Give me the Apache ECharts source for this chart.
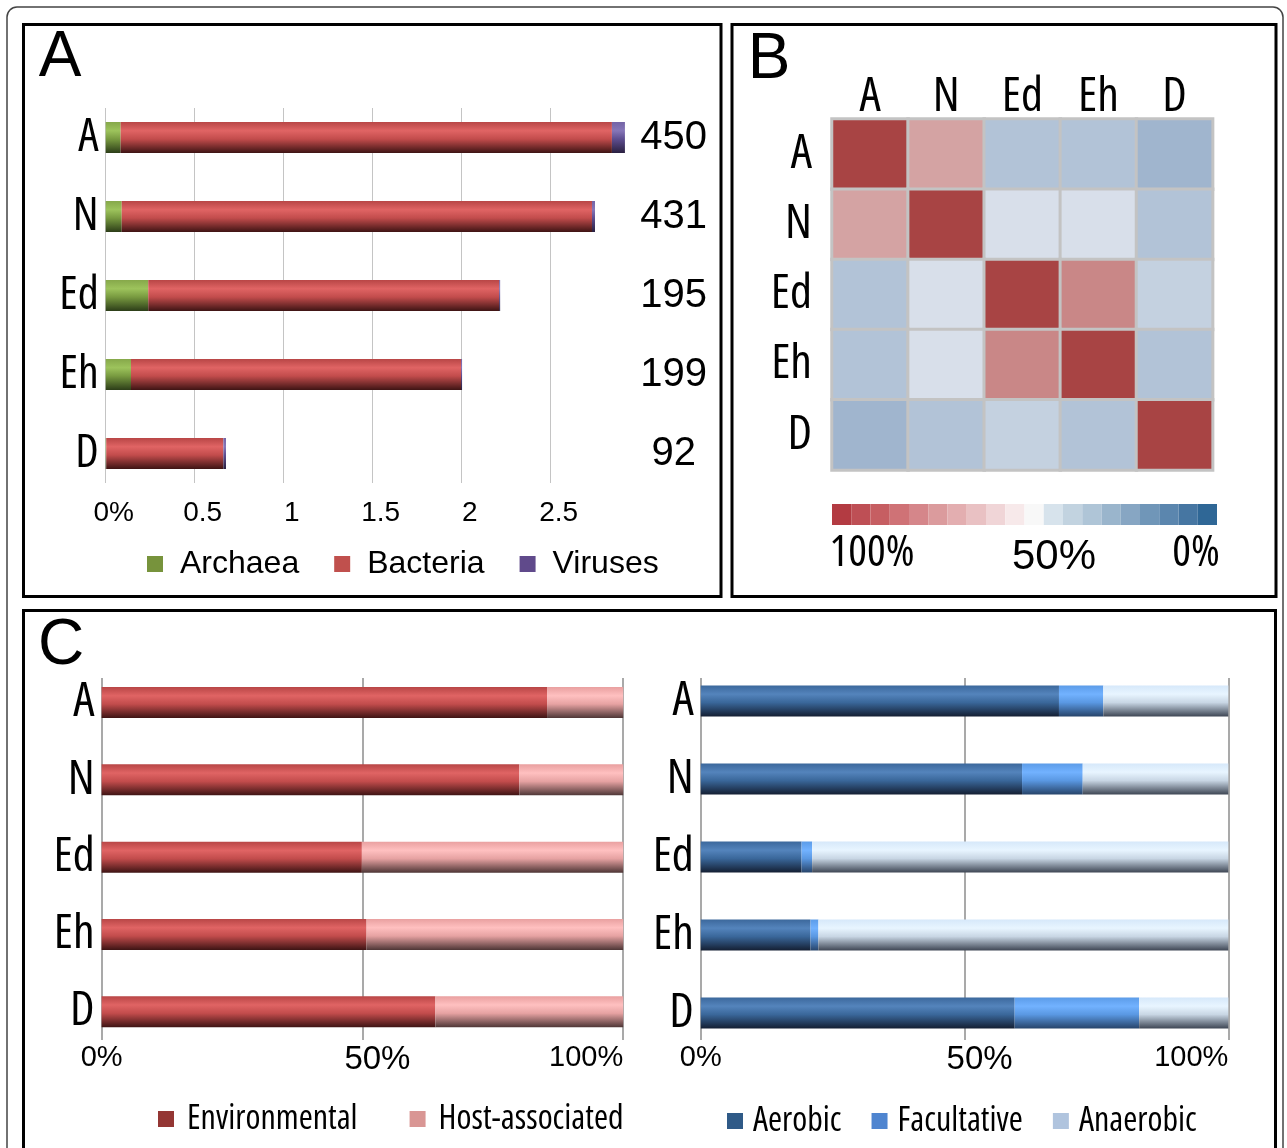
<!DOCTYPE html>
<html>
<head>
<meta charset="utf-8">
<script src="https://cdn.jsdelivr.net/npm/echarts@6/dist/echarts.min.js"></script>
<style>html,body{margin:0;padding:0;background:#fff}#c{width:1287px;height:1148px}</style>
</head>
<body>
<div id="c"></div>
<script>
// ---------- DATA ----------
const categories = ['A', 'N', 'Ed', 'Eh', 'D'];
const counts = ['450', '431', '195', '199', '92'];
const archaea = [0.084, 0.09, 0.239, 0.142, 0.003];
const bacteria = [2.76, 2.642, 1.971, 1.854, 0.658];
const viruses = [0.073, 0.017, 0.006, 0.006, 0.015];
const axisATicks = ['0%', '0.5', '1', '1.5', '2', '2.5'];

const heatCols = ['A', 'N', 'Ed', 'Eh', 'D'];
const heatRows = ['A', 'N', 'Ed', 'Eh', 'D'];
const similarity = [
  [100, 65, 35, 35, 30],
  [65, 100, 45, 45, 35],
  [35, 45, 100, 72, 40],
  [35, 45, 72, 100, 35],
  [30, 35, 40, 35, 100]
];
const colorbarTicks = ['100%', '50%', '0%'];

const environmental = [85.4, 80.1, 49.9, 50.8, 64.0];
const hostAssociated = [14.6, 19.9, 50.1, 49.2, 36.0];
const aerobic = [67.9, 60.9, 19.1, 20.8, 59.5];
const facultative = [8.4, 11.5, 2.0, 1.5, 23.6];
const anaerobic = [23.7, 27.6, 78.9, 77.7, 16.9];
const percentTicks = ['0%', '50%', '100%'];

// ---------- FONTS ----------
const REG = "'Liberation Sans',Arial,sans-serif";
function measureRatio(font, txt) {
  const ctx = document.createElement('canvas').getContext('2d');
  ctx.font = '10px monospace';
  ctx.font = font;
  return ctx.measureText(txt).width / 100;
}
const narrowCandidates = [
  { fam: "'Liberation Sans Narrow'", st: 'normal' },
  { fam: "'Open Sans'", st: 'condensed' },
  { fam: "'Open Sans'", st: 'semi-condensed' },
  { fam: "'Noto Sans'", st: 'condensed' },
  { fam: "'Noto Sans'", st: 'semi-condensed' },
  { fam: "Roboto", st: 'condensed' },
  { fam: "'DejaVu Sans'", st: 'condensed' },
  { fam: "'Liberation Sans'", st: 'normal' }
];
const targetRatio = 174 / 33;
let best = narrowCandidates[narrowCandidates.length - 1], bestErr = 1e9;
narrowCandidates.forEach(c => {
  const f = (c.st === 'normal' ? '' : c.st + ' ') + '100px ' + c.fam + ", sans-serif";
  const r = measureRatio(f, 'Environmental');
  const err = Math.abs(r - targetRatio);
  if (err < bestErr) { bestErr = err; best = c; }
});
const NARROW = best.fam + ",'Liberation Sans',sans-serif";
const NW = best.st;
const nfont = (s) => (NW === 'normal' ? '' : NW + ' ') + s + 'px ' + NARROW;

// ---------- STYLE ----------
const heatPalette = ['#6F8FB5', '#809DC0', '#90AAC8', '#A0B5CE', '#C4D1E0', '#ECEDF4',
  '#DDB9BA', '#CB8D8C', '#BF7171', '#B35A5A', '#A84444'];
const colorbarPalette = ['#B33B42', '#BE4F55', '#C65E62', '#CF7276', '#D5868A', '#DB9B9D',
  '#E3AEB0', '#E9C1C3', '#F0D5D7', '#F7E9EA', '#F8F8F8', '#D7E3EC', '#C2D3E0', '#AFC5D7',
  '#9AB5CC', '#87A6C3', '#7096B8', '#5B86AE', '#4676A2', '#2F6796'];

function glossy(top, light, mid, dark) {
  return new echarts.graphic.LinearGradient(0, 0, 0, 1, [
    { offset: 0, color: top }, { offset: 0.28, color: light },
    { offset: 0.55, color: mid }, { offset: 1, color: dark }
  ]);
}
const gGreen = glossy('#86A84A', '#9DC35C', '#789A40', '#2C3D18');
const gRed = glossy('#B84646', '#E06464', '#C24C4C', '#3E1414');
const gPurple = glossy('#7464A6', '#8676B8', '#5E4E90', '#2A2040');
const gPink = glossy('#E9A0A0', '#FFC0C0', '#E6A2A2', '#4E3636');
const gAer = glossy('#3C689C', '#5484BC', '#3A679A', '#141F33');
const gFac = glossy('#5C9CE8', '#72B2FF', '#5A98E2', '#27446A');
const gAna = glossy('#D6E8FA', '#E8F5FF', '#C8D6E4', '#3E4654');

const noAxis = { axisLine: { show: false }, axisTick: { show: false }, splitLine: { show: false } };
function catAxis(grid, data, size, margin) {
  return Object.assign({ gridIndex: grid, type: 'category', data: data, inverse: true,
    axisLabel: { margin: margin, fontFamily: NARROW, fontWeight: NW, fontSize: size, color: '#000' } }, noAxis);
}
function hiddenX(grid, max) { return { gridIndex: grid, type: 'value', min: 0, max: max, show: false }; }
function hiddenY(grid) { return { gridIndex: grid, type: 'value', min: 0, max: 1, show: false }; }

const pctLabel = {
  formatter: function (v) {
    const i = Math.round(v / 50);
    return v === 50 ? '{b|' + percentTicks[i] + '}' : '{a|' + percentTicks[i] + '}';
  },
  margin: 3,
  alignMaxLabel: 'right',
  rich: {
    a: { fontFamily: REG, fontSize: 29, color: '#000' },
    b: { fontFamily: REG, fontSize: 33, color: '#000', padding: [0, 0, 0, 30] }
  }
};
function pctAxis(grid) {
  return { gridIndex: grid, type: 'value', min: 0, max: 100, interval: 50,
    axisLine: { show: false }, axisTick: { show: false },
    splitLine: { show: true, lineStyle: { color: '#8C8C8C', width: 1.5 } },
    axisLabel: pctLabel };
}

const heatData = [];
similarity.forEach((row, r) => row.forEach((v, c) => heatData.push([c, r, v])));

const option = {
  backgroundColor: '#fff',
  animation: false,
  grid: [
    { left: 105.7, top: 98, width: 534, height: 395 },       // 0 A bars
    { left: 105.7, top: 108, width: 534, height: 375 },      // 1 A gridlines
    { left: 832, top: 119, width: 380.6, height: 351 },      // 2 heatmap
    { left: 101.6, top: 663.9, width: 521.6, height: 386.5 },// 3 C left bars
    { left: 101.6, top: 678, width: 521.6, height: 362 },    // 4 C left gridlines
    { left: 700.8, top: 662, width: 527.5, height: 390 },    // 5 C right bars
    { left: 700.8, top: 678, width: 527.5, height: 362 }     // 6 C right gridlines
  ],
  xAxis: [
    hiddenX(0, 3),
    {
      gridIndex: 1, type: 'value', min: 0, max: 3, interval: 0.5,
      axisLine: { show: false }, axisTick: { show: false },
      splitLine: { show: true, showMaxLine: false, lineStyle: { color: '#C4C4C4', width: 1 } },
      axisLabel: {
        showMaxLabel: false, margin: 16, fontFamily: REG, fontSize: 28, color: '#000',
        padding: [0, 0, 0, 16],
        formatter: function (v) { const t = axisATicks[Math.round(v / 0.5)]; return t === undefined ? '' : t; }
      }
    },
    Object.assign({ gridIndex: 2, type: 'category', data: heatCols, position: 'top',
      axisLabel: { margin: -2, fontFamily: NARROW, fontWeight: NW, fontSize: 48, color: '#000' } }, noAxis),
    hiddenX(3, 100),
    pctAxis(4),
    hiddenX(5, 100),
    pctAxis(6)
  ],
  yAxis: [
    catAxis(0, categories, 46, 7),
    Object.assign({ gridIndex: 0, type: 'category', data: counts, inverse: true, position: 'right',
      axisLabel: { margin: 34, align: 'center', fontFamily: REG, fontSize: 40, color: '#000', padding: [6, 0, 0, 0] } }, noAxis),
    hiddenY(1),
    catAxis(2, heatRows, 48, 20),
    catAxis(3, categories, 48, 7),
    hiddenY(4),
    catAxis(5, categories, 48, 7),
    hiddenY(6)
  ],
  legend: [
    {
      left: 142, top: 543, width: 600, itemWidth: 16, itemHeight: 16, itemGap: 35, icon: 'rect',
      selectedMode: false,
      textStyle: { fontFamily: REG, fontSize: 32, color: '#000', padding: [0, 0, 0, 12] },
      data: [
        { name: 'Archaea', itemStyle: { color: '#77933C' } },
        { name: 'Bacteria', itemStyle: { color: '#C0504D' } },
        { name: 'Viruses', itemStyle: { color: '#604A8B' } }
      ]
    },
    {
      left: 153, top: 1097, width: 540, itemWidth: 16, itemHeight: 16, itemGap: 52, icon: 'rect',
      selectedMode: false,
      textStyle: { fontFamily: NARROW, fontWeight: NW, fontSize: 34, color: '#000', padding: [0, 0, 0, 8] },
      data: [
        { name: 'Environmental', itemStyle: { color: '#943634' } },
        { name: 'Host-associated', itemStyle: { color: '#D99694' } }
      ]
    },
    {
      left: 722, top: 1099, width: 560, itemWidth: 16, itemHeight: 16, itemGap: 30, icon: 'rect',
      selectedMode: false,
      textStyle: { fontFamily: NARROW, fontWeight: NW, fontSize: 34, color: '#000', padding: [0, 0, 0, 5] },
      data: [
        { name: 'Aerobic', itemStyle: { color: '#2F5A87' } },
        { name: 'Facultative', itemStyle: { color: '#4F85D0' } },
        { name: 'Anaerobic', itemStyle: { color: '#B0C4DE' } }
      ]
    }
  ],
  visualMap: [
    {
      type: 'continuous', show: false, seriesIndex: 3, min: 0, max: 100,
      inRange: { color: heatPalette }
    },
    {
      type: 'piecewise', seriesIndex: 4, orient: 'horizontal', inverse: true, left: 832, top: 504,
      padding: 0, itemWidth: 19.25, itemHeight: 21, itemGap: 0, itemSymbol: 'rect',
      showLabel: false, selectedMode: false, hoverLink: false,
      pieces: colorbarPalette.map((c, i) => ({ min: 100 - (i + 1) * 5, max: 100 - i * 5, color: c }))
    }
  ],
  series: [
    { name: 'Archaea', type: 'bar', stack: 'a', xAxisIndex: 0, yAxisIndex: 0, barWidth: 31, data: archaea, itemStyle: { color: gGreen } },
    { name: 'Bacteria', type: 'bar', stack: 'a', xAxisIndex: 0, yAxisIndex: 0, barWidth: 31, data: bacteria, itemStyle: { color: gRed } },
    { name: 'Viruses', type: 'bar', stack: 'a', xAxisIndex: 0, yAxisIndex: 0, barWidth: 31, data: viruses, itemStyle: { color: gPurple } },
    {
      name: 'Similarity', type: 'heatmap', xAxisIndex: 2, yAxisIndex: 3, data: heatData,
      itemStyle: { borderColor: '#C3C3C3', borderWidth: 3 }, emphasis: { disabled: true }
    },
    { name: 'scale', type: 'scatter', xAxisIndex: 2, yAxisIndex: 3, data: [], silent: true },
    { name: 'Environmental', type: 'bar', stack: 'c1', xAxisIndex: 3, yAxisIndex: 4, barWidth: 31, data: environmental, itemStyle: { color: gRed } },
    { name: 'Host-associated', type: 'bar', stack: 'c1', xAxisIndex: 3, yAxisIndex: 4, barWidth: 31, data: hostAssociated, itemStyle: { color: gPink } },
    { name: 'Aerobic', type: 'bar', stack: 'c2', xAxisIndex: 5, yAxisIndex: 6, barWidth: 31, data: aerobic, itemStyle: { color: gAer } },
    { name: 'Facultative', type: 'bar', stack: 'c2', xAxisIndex: 5, yAxisIndex: 6, barWidth: 31, data: facultative, itemStyle: { color: gFac } },
    { name: 'Anaerobic', type: 'bar', stack: 'c2', xAxisIndex: 5, yAxisIndex: 6, barWidth: 31, data: anaerobic, itemStyle: { color: gAna } }
  ],
  graphic: [
    { type: 'rect', shape: { x: 7, y: 7, width: 1276, height: 1175, r: 10 }, style: { fill: 'none', stroke: '#444', lineWidth: 1.5 }, silent: true },
    { type: 'rect', shape: { x: 23.5, y: 24.5, width: 697.5, height: 572 }, style: { fill: 'none', stroke: '#000', lineWidth: 3 }, silent: true },
    { type: 'rect', shape: { x: 732, y: 24.5, width: 544, height: 572 }, style: { fill: 'none', stroke: '#000', lineWidth: 3 }, silent: true },
    { type: 'rect', shape: { x: 23.5, y: 610.5, width: 1252, height: 570 }, style: { fill: 'none', stroke: '#000', lineWidth: 3 }, silent: true },
    { type: 'text', x: 60, y: 58, style: { text: 'A', font: '64px ' + REG, fill: '#000', align: 'center', verticalAlign: 'middle' } },
    { type: 'text', x: 769, y: 60, style: { text: 'B', font: '64px ' + REG, fill: '#000', align: 'center', verticalAlign: 'middle' } },
    { type: 'text', x: 61, y: 646, style: { text: 'C', font: '64px ' + REG, fill: '#000', align: 'center', verticalAlign: 'middle' } },
    { type: 'text', x: 872, y: 553, style: { text: colorbarTicks[0], font: nfont(44), fill: '#000', align: 'center', verticalAlign: 'middle' } },
    { type: 'text', x: 1054, y: 557, style: { text: colorbarTicks[1], font: '42px ' + REG, fill: '#000', align: 'center', verticalAlign: 'middle' } },
    { type: 'text', x: 1196, y: 553, style: { text: colorbarTicks[2], font: nfont(44), fill: '#000', align: 'center', verticalAlign: 'middle' } }
  ]
};

const chart = echarts.init(document.getElementById('c'));
chart.setOption(option);
</script>
</body>
</html>
